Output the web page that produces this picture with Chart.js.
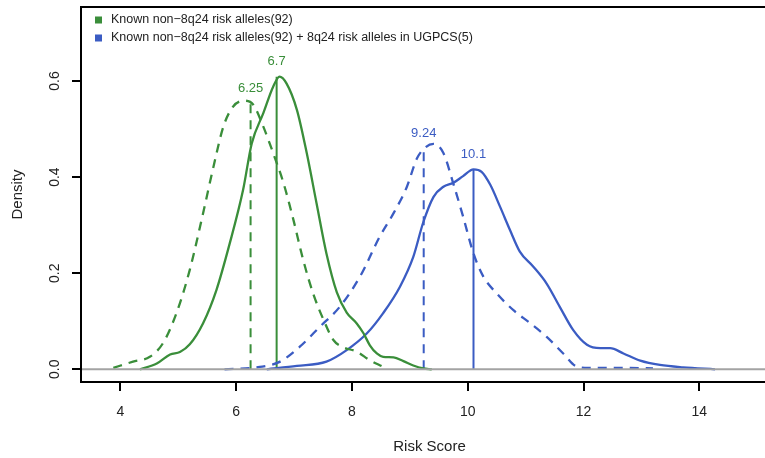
<!DOCTYPE html>
<html>
<head>
<meta charset="utf-8">
<script src="https://cdn.jsdelivr.net/npm/chart.js@4"></script>
<style>
  html, body { margin: 0; padding: 0; background: #fff; overflow: hidden; }
  #wrap { position: relative; width: 792px; height: 458px; }
</style>
</head>
<body>
<div id="wrap"><canvas id="myChart"></canvas></div>
<script>
// density curves
const greenSolidX = [4.34, 4.63, 4.86, 5.03, 5.2, 5.43, 5.66, 5.89, 6.12, 6.27, 6.47, 6.64, 6.75, 6.87, 7.05, 7.22, 7.39, 7.56, 7.74, 7.91, 8.08, 8.2, 8.31, 8.43, 8.54, 8.72, 8.89, 9.06, 9.23, 9.38];
const greenSolidY = [0, 0.012, 0.031, 0.036, 0.052, 0.096, 0.165, 0.262, 0.373, 0.47, 0.533, 0.588, 0.609, 0.595, 0.54, 0.45, 0.345, 0.241, 0.16, 0.118, 0.096, 0.075, 0.05, 0.033, 0.026, 0.025, 0.017, 0.008, 0.002, 0];
const greenDashX = [3.88, 4.22, 4.51, 4.74, 4.97, 5.2, 5.43, 5.61, 5.78, 5.95, 6.15, 6.3, 6.47, 6.64, 6.82, 6.99, 7.16, 7.33, 7.51, 7.68, 7.85, 8.08, 8.31, 8.54, 8.62];
const greenDashY = [0.003, 0.016, 0.026, 0.055, 0.117, 0.207, 0.325, 0.422, 0.505, 0.547, 0.559, 0.55, 0.505, 0.45, 0.387, 0.311, 0.227, 0.158, 0.103, 0.061, 0.046, 0.037, 0.019, 0.005, 0];
const blueSolidX = [6.53, 7.05, 7.56, 7.91, 8.26, 8.54, 8.83, 9.06, 9.23, 9.41, 9.58, 9.75, 9.92, 10.1, 10.24, 10.39, 10.56, 10.73, 10.9, 11.13, 11.36, 11.59, 11.82, 12.06, 12.29, 12.46, 12.69, 12.98, 13.32, 13.72, 14.27];
const blueSolidY = [0, 0.007, 0.016, 0.04, 0.075, 0.117, 0.172, 0.234, 0.305, 0.359, 0.38, 0.388, 0.402, 0.416, 0.411, 0.384, 0.338, 0.29, 0.245, 0.214, 0.179, 0.13, 0.082, 0.051, 0.044, 0.044, 0.033, 0.018, 0.009, 0.004, 0];
const blueDashX = [5.8, 6.41, 6.76, 7.1, 7.45, 7.79, 8.14, 8.48, 8.72, 8.95, 9.12, 9.26, 9.41, 9.58, 9.75, 9.92, 10.1, 10.27, 10.5, 10.79, 11.08, 11.36, 11.65, 11.88, 12.1, 12.6, 13.2];
const blueDashY = [0, 0.005, 0.016, 0.047, 0.089, 0.13, 0.193, 0.276, 0.325, 0.38, 0.438, 0.461, 0.469, 0.45, 0.387, 0.318, 0.241, 0.193, 0.158, 0.123, 0.096, 0.068, 0.033, 0.006, 0.003, 0.003, 0.002];

// marked peaks: x value, height of the drop line, label
const markX = [6.25, 6.7, 9.24, 10.1];
const markTop = [0.553, 0.609, 0.46, 0.415];
const markLabels = ['6.25', '6.7', '9.24', '10.1'];
const markDashed = [true, false, true, false];
const markGroup = [0, 0, 1, 1];

const legendLabels = ['Known non\u22128q24 risk alleles(92)', 'Known non\u22128q24 risk alleles(92) + 8q24 risk alleles in UGPCS(5)'];
const xTicks = [4, 6, 8, 10, 12, 14];
const yTicks = [0, 0.2, 0.4, 0.6];
const xRange = [3.3212, 15.359];
const yRange = [-0.0264, 0.754];

const colors = ['#3a8e3a', '#3b5cc3'];
const FONT = 'Liberation Sans, Arial, Helvetica, sans-serif';
const dash = [9, 7];

const toPoints = (xs, ys) => xs.map((x, i) => ({ x, y: ys[i] }));

const curve = (xs, ys, color, dashed) => ({
  data: toPoints(xs, ys),
  borderColor: color,
  borderWidth: 2.3,
  borderDash: dashed ? dash : [],
  pointRadius: 0,
  fill: false,
  cubicInterpolationMode: 'monotone',
});

const datasets = [
  curve(greenSolidX, greenSolidY, colors[0], false),
  curve(greenDashX, greenDashY, colors[0], true),
  curve(blueSolidX, blueSolidY, colors[1], false),
  curve(blueDashX, blueDashY, colors[1], true),
];

for (let i = 0; i < markX.length; i += 1) {
  datasets.push({
    data: [{ x: markX[i], y: 0 }, { x: markX[i], y: markTop[i] }],
    borderColor: colors[markGroup[i]],
    borderWidth: 2,
    borderDash: markDashed[i] ? dash : [],
    pointRadius: 0,
    fill: false,
  });
}

// grey zero line across the panel
datasets.push({
  data: [{ x: xRange[0], y: 0 }, { x: xRange[1], y: 0 }],
  borderColor: '#a3a3a3',
  borderWidth: 2,
  pointRadius: 0,
  fill: false,
  order: -1,
});

const extras = {
  id: 'extras',
  afterDraw(chart) {
    const { ctx, chartArea, scales } = chart;
    ctx.save();
    // box
    ctx.strokeStyle = '#000';
    ctx.lineWidth = 2;
    ctx.strokeRect(chartArea.left, chartArea.top, chartArea.right - chartArea.left, chartArea.bottom - chartArea.top);

    // rotated y tick labels
    ctx.fillStyle = '#222';
    ctx.font = `14px ${FONT}`;
    ctx.textAlign = 'center';
    ctx.textBaseline = 'middle';
    yTicks.forEach((v) => {
      const py = scales.y.getPixelForValue(v);
      ctx.save();
      ctx.translate(55, py);
      ctx.rotate(-Math.PI / 2);
      ctx.fillText(v.toFixed(1), 0, 0);
      ctx.restore();
    });

    // peak labels
    ctx.font = `13px ${FONT}`;
    markX.forEach((v, i) => {
      ctx.fillStyle = colors[markGroup[i]];
      ctx.fillText(markLabels[i], scales.x.getPixelForValue(v), scales.y.getPixelForValue(markTop[i]) - 15);
    });

    // legend
    ctx.textAlign = 'left';
    ctx.font = `12.5px ${FONT}`;
    legendLabels.forEach((t, i) => {
      const ly = 20 + i * 18;
      ctx.fillStyle = colors[i];
      ctx.fillRect(95, ly - 3.5, 7, 7);
      ctx.fillStyle = '#222';
      ctx.fillText(t, 111, ly);
    });
    ctx.restore();
  },
};

/* eslint-disable */
const riskChart = new Chart('myChart', {
  /* eslint-enable */
  type: 'line',
  data: { datasets },
  options: {
    responsive: true,
    maintainAspectRatio: false,
    animation: false,
    layout: { padding: { left: 0, top: 7, right: 14, bottom: 0 } },
    plugins: { legend: { display: false }, tooltip: { enabled: false } },
    scales: {
      x: {
        type: 'linear',
        min: xRange[0],
        max: xRange[1],
        afterBuildTicks: (s) => { s.ticks = xTicks.map((v) => ({ value: v })); },
        afterFit: (s) => { s.height = 76; },
        border: { display: false },
        grid: { drawOnChartArea: false, drawTicks: true, tickLength: 9, color: '#000', lineWidth: 2 },
        ticks: { color: '#222', font: { family: FONT, size: 14 }, padding: 13, maxRotation: 0 },
        title: { display: true, text: 'Risk Score', color: '#222', font: { family: FONT, size: 15 }, padding: { top: 0, bottom: 2 } },
      },
      y: {
        type: 'linear',
        min: yRange[0],
        max: yRange[1],
        afterBuildTicks: (s) => { s.ticks = yTicks.map((v) => ({ value: v })); },
        afterFit: (s) => { s.width = 81; },
        border: { display: false },
        grid: { drawOnChartArea: false, drawTicks: true, tickLength: 9, color: '#000', lineWidth: 2 },
        ticks: { display: false },
        title: { display: true, text: 'Density', color: '#222', font: { family: FONT, size: 15 }, padding: { top: 9, bottom: 0 } },
      },
    },
  },
  plugins: [extras],
});
</script>
</body>
</html>
